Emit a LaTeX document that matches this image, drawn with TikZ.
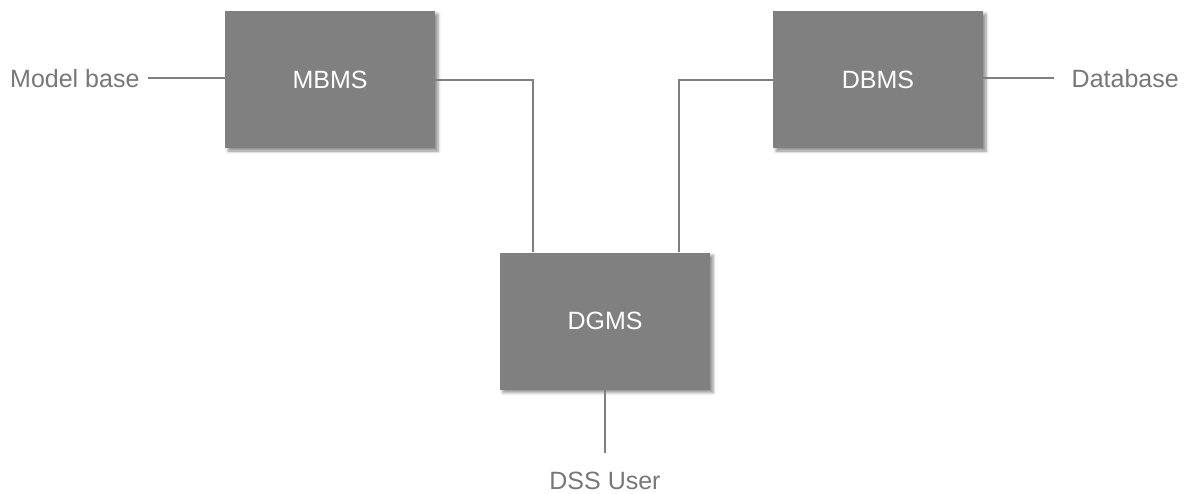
\documentclass[tikz,border=0pt]{standalone}
\usepackage{fontspec}
\setmainfont{Liberation Sans}
\usetikzlibrary{shadows.blur}
\definecolor{boxgray}{HTML}{808080}
\definecolor{linegray}{HTML}{7F7F7F}
\definecolor{labelgray}{HTML}{777777}
\tikzset{
  module/.style={fill=boxgray, draw=none, minimum width=210pt, minimum height=137pt,
    inner sep=0pt, text=white, font=\fontsize{25pt}{30pt}\selectfont,
    blur shadow={shadow xshift=3pt, shadow yshift=-3pt, shadow blur radius=3pt, shadow opacity=45}},
  ext/.style={text=labelgray, inner ysep=0pt, font=\fontsize{25pt}{30pt}\selectfont},
  wire/.style={draw=linegray, line width=2pt}
}
\begin{document}
\begin{tikzpicture}[x=1pt, y=-1pt]
  \useasboundingbox (0,0) rectangle (1186,493);

  % management subsystems
  \node[module] (mbms) at (330,79.5) {MBMS};
  \node[module] (dbms) at (878,79.5) {DBMS};
  \node[module] (dgms) at (605,321) {DGMS};

  % external parts
  \node[ext, inner xsep=8pt, anchor=base west] (mb) at (2,87) {Model base};
  \node[ext, inner xsep=17.5pt, anchor=base west] (db) at (1054,87) {Database};
  \node[ext, inner ysep=19pt, anchor=base] (user) at (605,489.5) {DSS User};

  % connections
  \draw[wire] (mb.east) -- (mb.east -| mbms.west);
  \draw[wire] (db.west) -- (db.west -| dbms.east);
  \draw[wire] (mbms.east) -| ([xshift=33pt]dgms.north west);
  \draw[wire] (dbms.west) -| ([xshift=-31pt]dgms.north east);
  \draw[wire] (dgms.south) -- (user.north);
\end{tikzpicture}
\end{document}
